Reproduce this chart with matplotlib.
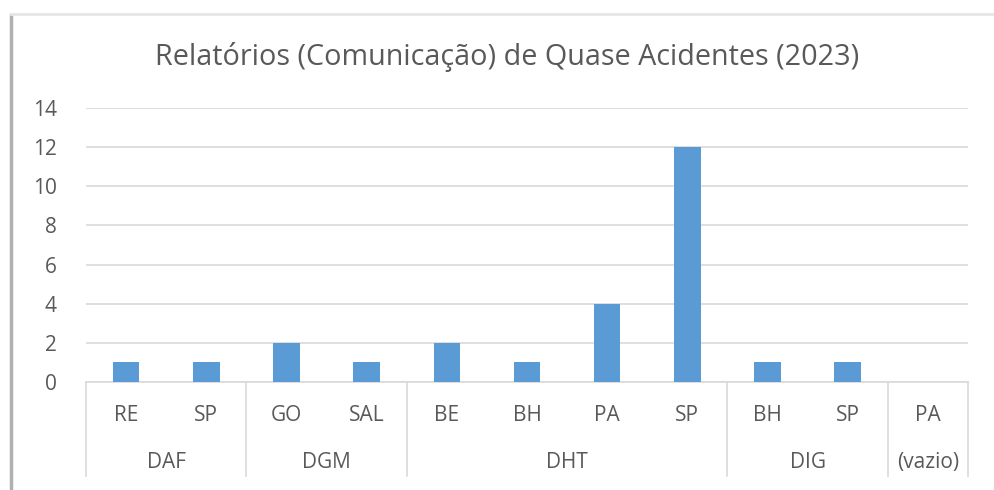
import numpy as np
import matplotlib.pyplot as plt
from matplotlib.lines import Line2D
from matplotlib.transforms import blended_transform_factory

plt.rcParams['font.family'] = ['Open Sans', 'DejaVu Sans']

# data
sites = ["RE", "SP", "GO", "SAL", "BE", "BH", "PA", "SP", "BH", "SP", "PA"]
counts = [1, 1, 2, 1, 2, 1, 4, 12, 1, 1, 0]
groups = ["DAF", "DGM", "DHT", "DIG", "(vazio)"]
group_sizes = [2, 2, 4, 2, 1]

text_col = "#595959"
grid_col = "#d9d9d9"
bar_col = "#5b9bd5"

fig = plt.figure(figsize=(9.95, 4.9), dpi=100)
ax = fig.add_axes([86/995, 1 - 382/490, 882/995, 274/490])

x = np.arange(len(sites))
ax.bar(x, counts, width=0.33, color=bar_col, zorder=3)

ax.set_xlim(-0.5, len(sites) - 0.5)
ax.set_ylim(0, 14)
ax.set_yticks(np.arange(0, 15, 2))
ax.yaxis.grid(True, color=grid_col, linewidth=1.2, zorder=0)
ax.set_xticks([])
for s in ["top", "right", "left"]:
    ax.spines[s].set_visible(False)
ax.spines["bottom"].set_color(grid_col)
ax.spines["bottom"].set_linewidth(1.2)
ax.tick_params(axis="y", length=0, pad=21, labelsize=15, labelcolor=text_col)

# two-level category axis
trans = blended_transform_factory(ax.transData, ax.transAxes)
for xi, s in zip(x, sites):
    ax.text(xi, -33/274, s, transform=trans, ha="center", va="center",
            fontsize=15, color=text_col)

bounds = np.concatenate([[0], np.cumsum(group_sizes)]) - 0.5
for b in bounds:
    ax.plot([b, b], [0, -94/274], transform=trans, color=grid_col,
            linewidth=1.2, clip_on=False)
for g, lo, hi in zip(groups, bounds[:-1], bounds[1:]):
    ax.text((lo + hi) / 2, -80/274, g, transform=trans, ha="center",
            va="center", fontsize=15, color=text_col)

fig.text(507/995, 1 - 57/490, "Relatórios (Comunicação) de Quase Acidentes (2023)",
         ha="center", va="center", fontsize=20.7, color=text_col)

# chart frame edges visible in the screenshot
fig.add_artist(Line2D([11/995, 11/995], [0, 1 - 15/490], color="#b0b0b0", linewidth=2.5))
fig.add_artist(Line2D([11/995, 1], [1 - 14/490, 1 - 14/490], color="#e6e6e6", linewidth=2))

fig.savefig("out.png", dpi=100)
